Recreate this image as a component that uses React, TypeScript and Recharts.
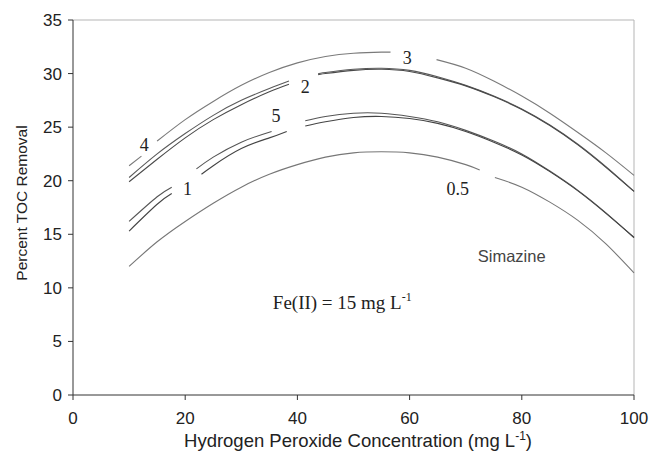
import React from 'react';
import { LineChart, Line, XAxis, YAxis, ReferenceLine, ReferenceDot } from 'recharts';

type Pt = { x: number; y: number | null };

const xTicks = [0, 20, 40, 60, 80, 100];
const yTicks = [0, 5, 10, 15, 20, 25, 30, 35];

// top curve (labels "4" and "3")
const curveA: Pt[] = [
  { x: 10, y: 21.4 }, { x: 12.2, y: 22.3 }, { x: 13.6, y: null },
  { x: 15, y: 23.7 }, { x: 20, y: 25.7 }, { x: 25, y: 27.4 }, { x: 30, y: 28.9 },
  { x: 35, y: 30.1 }, { x: 40, y: 31.0 }, { x: 45, y: 31.6 }, { x: 50, y: 31.9 },
  { x: 55, y: 32.0 }, { x: 56.6, y: 32.0 }, { x: 60, y: null },
  { x: 64.8, y: 31.3 }, { x: 70, y: 30.5 }, { x: 75, y: 29.3 }, { x: 80, y: 27.9 },
  { x: 85, y: 26.3 }, { x: 90, y: 24.5 }, { x: 95, y: 22.6 }, { x: 100, y: 20.5 },
];

// pair labelled "2"
const curveB1: Pt[] = [
  { x: 10, y: 20.3 }, { x: 15, y: 22.5 }, { x: 20, y: 24.4 }, { x: 25, y: 26.1 },
  { x: 30, y: 27.5 }, { x: 35, y: 28.6 }, { x: 38.5, y: 29.3 }, { x: 41, y: null },
  { x: 43.7, y: 30.0 }, { x: 45, y: 30.1 }, { x: 50, y: 30.4 }, { x: 55, y: 30.5 },
  { x: 60, y: 30.3 }, { x: 65, y: 29.7 }, { x: 70, y: 28.9 }, { x: 75, y: 27.9 },
  { x: 80, y: 26.7 }, { x: 85, y: 25.2 }, { x: 90, y: 23.4 }, { x: 95, y: 21.3 },
  { x: 100, y: 19.0 },
];
const curveB2: Pt[] = [
  { x: 10, y: 19.9 }, { x: 15, y: 22.0 }, { x: 20, y: 24.0 }, { x: 25, y: 25.7 },
  { x: 30, y: 27.1 }, { x: 35, y: 28.3 }, { x: 38.5, y: 29.0 }, { x: 41, y: null },
  { x: 43.7, y: 29.9 }, { x: 45, y: 30.0 }, { x: 50, y: 30.3 }, { x: 55, y: 30.4 },
  { x: 60, y: 30.2 }, { x: 65, y: 29.6 }, { x: 70, y: 28.85 }, { x: 75, y: 27.85 },
  { x: 80, y: 26.65 }, { x: 85, y: 25.15 }, { x: 90, y: 23.35 }, { x: 95, y: 21.25 },
  { x: 100, y: 19.0 },
];

// pair labelled "1" and "5"
const curveC1: Pt[] = [
  { x: 10, y: 16.2 }, { x: 15, y: 18.5 }, { x: 17.6, y: 19.4 }, { x: 20, y: null },
  { x: 22, y: 21.1 }, { x: 25, y: 22.2 }, { x: 30, y: 23.6 }, { x: 35.4, y: 24.6 },
  { x: 38, y: null },
  { x: 41.4, y: 25.6 }, { x: 45, y: 26.0 }, { x: 50, y: 26.3 }, { x: 55, y: 26.3 },
  { x: 60, y: 26.0 }, { x: 65, y: 25.5 }, { x: 70, y: 24.7 }, { x: 75, y: 23.7 },
  { x: 80, y: 22.5 }, { x: 85, y: 20.9 }, { x: 90, y: 19.1 }, { x: 95, y: 17.0 },
  { x: 100, y: 14.7 },
];
const curveC2: Pt[] = [
  { x: 10, y: 15.3 }, { x: 15, y: 17.8 }, { x: 17.6, y: 18.8 }, { x: 20, y: null },
  { x: 22.9, y: 20.6 }, { x: 25, y: 21.4 }, { x: 30, y: 23.0 }, { x: 35, y: 24.0 },
  { x: 38.1, y: 24.6 }, { x: 40, y: null },
  { x: 41.4, y: 25.1 }, { x: 45, y: 25.5 }, { x: 50, y: 25.9 }, { x: 55, y: 26.0 },
  { x: 60, y: 25.8 }, { x: 65, y: 25.35 }, { x: 70, y: 24.6 }, { x: 75, y: 23.6 },
  { x: 80, y: 22.4 }, { x: 85, y: 20.85 }, { x: 90, y: 19.05 }, { x: 95, y: 16.95 },
  { x: 100, y: 14.7 },
];

// lowest curve, labelled "0.5"
const curveD: Pt[] = [
  { x: 10, y: 12.0 }, { x: 15, y: 14.3 }, { x: 20, y: 16.2 }, { x: 25, y: 17.9 },
  { x: 30, y: 19.4 }, { x: 35, y: 20.6 }, { x: 40, y: 21.5 }, { x: 45, y: 22.2 },
  { x: 50, y: 22.6 }, { x: 55, y: 22.7 }, { x: 60, y: 22.6 }, { x: 65, y: 22.2 },
  { x: 70, y: 21.5 }, { x: 72.5, y: 21.0 }, { x: 74, y: null },
  { x: 75.2, y: 20.3 }, { x: 80, y: 19.4 }, { x: 85, y: 18.0 }, { x: 90, y: 16.3 },
  { x: 95, y: 14.1 }, { x: 100, y: 11.4 },
];

const curveLabels = [
  { text: '4', x: 12.7, y: 23.4 },
  { text: '2', x: 41.4, y: 28.8 },
  { text: '5', x: 36.2, y: 26.1 },
  { text: '1', x: 20.4, y: 19.3 },
  { text: '3', x: 59.6, y: 31.5 },
  { text: '0.5', x: 68.6, y: 19.3 },
];

const serif = '"Liberation Serif", "Times New Roman", serif';
const sans = '"Liberation Sans", Arial, sans-serif';

const series = [
  { key: 'A', data: curveA, color: '#7a7a7a', w: 1.1 },
  { key: 'B1', data: curveB1, color: '#5a5a5a', w: 1.1 },
  { key: 'B2', data: curveB2, color: '#4a4a4a', w: 1.1 },
  { key: 'C1', data: curveC1, color: '#555555', w: 1.1 },
  { key: 'C2', data: curveC2, color: '#444444', w: 1.1 },
  { key: 'D', data: curveD, color: '#777777', w: 1.1 },
];

export default function App() {
  return (
    <div style={{ position: 'absolute', left: 0, top: 0, background: '#fff' }}>
      <LineChart width={649} height={453} margin={{ top: 20, right: 15, bottom: 0, left: 0 }}>
        <XAxis
          type="number"
          dataKey="x"
          domain={[0, 100]}
          ticks={xTicks}
          allowDuplicatedCategory={false}
          stroke="#333"
          tickSize={5}
          tickMargin={12}
          height={58}
          tick={{ fontSize: 17, fontFamily: sans, fill: '#222' }}
          label={{
            content: () => (
              <text x={358} y={447} textAnchor="middle" fontSize={18.5} fontFamily={sans} fill="#222">
                Hydrogen Peroxide Concentration (mg L
                <tspan dy={-7} fontSize={12}>-1</tspan>
                <tspan dy={7}>)</tspan>
              </text>
            ),
          }}
        />
        <YAxis
          type="number"
          domain={[0, 35]}
          ticks={yTicks}
          stroke="#333"
          tickSize={5}
          tickMargin={6}
          width={73}
          tick={{ fontSize: 17, fontFamily: sans, fill: '#222' }}
          label={{
            content: () => (
              <text
                x={27}
                y={203}
                transform="rotate(-90 27 203)"
                textAnchor="middle"
                fontSize={15.5}
                fontFamily={sans}
                fill="#222"
              >
                Percent TOC Removal
              </text>
            ),
          }}
        />
        <ReferenceLine y={35} stroke="#b5b5b5" strokeWidth={1} />
        <ReferenceLine x={100} stroke="#b5b5b5" strokeWidth={1} />
        {series.map((s) => (
          <Line
            key={s.key}
            data={s.data}
            dataKey="y"
            type="natural"
            stroke={s.color}
            strokeWidth={s.w}
            dot={false}
            activeDot={false}
            connectNulls={false}
            isAnimationActive={false}
          />
        ))}
        {curveLabels.map((l) => (
          <ReferenceDot
            key={l.text}
            x={l.x}
            y={l.y}
            r={0}
            fill="none"
            stroke="none"
            label={{ value: l.text, position: 'center', fontSize: 18, fontFamily: serif, fill: '#222' }}
          />
        ))}
        <ReferenceDot
          x={48}
          y={8.9}
          r={0}
          fill="none"
          stroke="none"
          label={{
            content: (props: any) => {
              const vb = props.viewBox || {};
              const cx = (vb.x ?? 0) + (vb.width ?? 0) / 2;
              const cy = (vb.y ?? 0) + (vb.height ?? 0) / 2;
              return (
                <text x={cx} y={cy + 9} textAnchor="middle" fontSize={19} fontFamily={serif} fill="#222">
                  Fe(II) = 15 mg L
                  <tspan dy={-8} fontSize={12}>-1</tspan>
                </text>
              );
            },
          }}
        />
        <ReferenceDot
          x={78.2}
          y={13.0}
          r={0}
          fill="none"
          stroke="none"
          label={{ value: 'Simazine', position: 'center', fontSize: 16.5, fontFamily: sans, fill: '#444' }}
        />
      </LineChart>
    </div>
  );
}
